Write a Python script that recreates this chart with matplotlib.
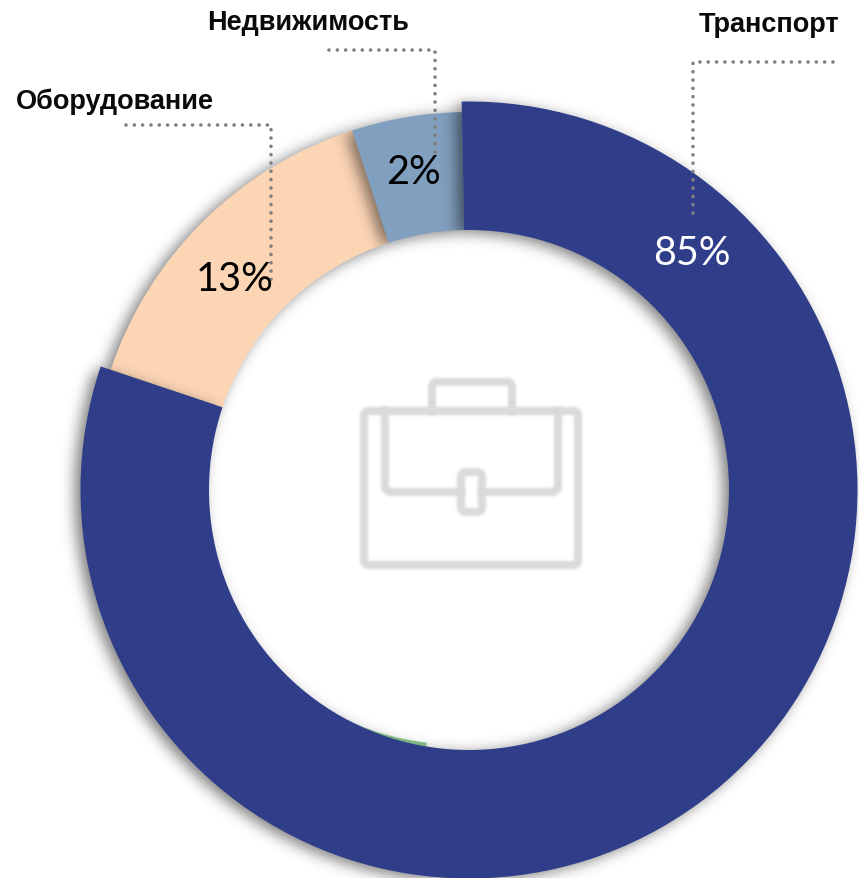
import matplotlib
matplotlib.use("Agg")
import matplotlib.pyplot as plt
import numpy as np
from matplotlib.patches import Wedge, FancyBboxPatch

# Data
categories = ["Транспорт", "Оборудование", "Недвижимость"]
value_labels = ["85%", "13%", "2%"]
slice_shares = [80.45, 14.85, 4.7]        # drawn arc shares, clockwise
first_start = -0.3                        # navy starts just left of 12 o'clock
colors = ["#303E8A", "#FCD5B5", "#819FBE"]
sliver_start, sliver_share = 51.8, 5.8    # thin green arc under the navy ring
sliver_color = "#7FB583"

W, H = 859, 879
fig = plt.figure(figsize=(W / 100, H / 100), dpi=100)
ax = fig.add_axes([0, 0, 1, 1])
ax.set_xlim(0, W)
ax.set_ylim(H, 0)   # pixel-like coordinates, y down
ax.axis("off")

cx, cy = 469, 491
px = 72 / 100  # points per pixel
radii = [388.5, 378, 378]
inner = 260


def blur(sigma, rgb=None, strength=1.0):
    """agg_filter: gaussian blur of the artist's alpha, keeps one flat colour."""
    pad = int(3.5 * sigma) + 2
    xs = np.arange(-pad, pad + 1)
    kern = np.exp(-xs ** 2 / (2 * sigma ** 2))
    kern /= kern.sum()

    def _f(img, dpi):
        out = np.pad(img, ((pad, pad), (pad, pad), (0, 0)))
        a = out[:, :, 3]
        ny, nx = a.shape
        fa = np.fft.rfft2(a)
        ky = np.fft.fft(np.roll(np.pad(kern, (0, ny - kern.size)), -pad))
        kx = np.fft.rfft(np.roll(np.pad(kern, (0, nx - kern.size)), -pad))
        b = np.fft.irfft2(fa * ky[:, None] * kx[None, :], s=a.shape)
        res = np.zeros_like(out)
        res[:, :, :3] = (0, 0, 0) if rgb is None else rgb
        res[:, :, 3] = np.clip(b * strength, 0, 1)
        return res, -pad, -pad
    return _f


def arc_wedge(c, r, width, start_share, share, **kw):
    # With y inverted, increasing angle runs clockwise on screen; 12 o'clock is -90
    t1 = -90 + start_share * 3.6
    t2 = t1 + share * 3.6
    return Wedge(c, r, t1, t2, width=width, **kw)


def shadow(r, start, share, z, off=(-6, 3), sigma=7.0, strength=0.5):
    p = arc_wedge((cx + off[0], cy + off[1]), r, r - inner, start, share,
                  fc="black", ec="none", zorder=z)
    p.set_agg_filter(blur(sigma, strength=strength))
    ax.add_patch(p)


starts = np.cumsum([first_start] + slice_shares[:-1])
zs = [6, 2, 4]
for r, s, share, col, z in zip(radii, starts, slice_shares, colors, zs):
    shadow(r, s, share, z - 0.5)
    ax.add_patch(arc_wedge((cx, cy), r, r - inner, s, share, fc=col, ec="none", zorder=z))

ax.add_patch(arc_wedge((cx - 13.6, cy), 300, 45.7, sliver_start, sliver_share,
                       fc=sliver_color, ec="none", zorder=5.7))

# Briefcase icon (soft, blurred look)
GREY = "#DADADA"
grey_rgb = matplotlib.colors.to_rgb(GREY)
def soft(a):
    a.set_agg_filter(blur(1.3, rgb=grey_rgb))
    return a
icon = dict(ec=GREY, fc="none", lw=8 * px, zorder=7)
soft(ax.add_patch(FancyBboxPatch((364, 412), 214, 154, boxstyle="round,pad=0,rounding_size=5", **icon)))
soft(ax.plot([432, 432, 435, 509, 512, 512], [412, 387, 383, 383, 387, 412],
             color=GREY, lw=8 * px, zorder=7, solid_joinstyle="round")[0])
soft(ax.plot([385, 385, 389, 461], [412, 489, 493, 493], color=GREY, lw=8 * px, zorder=7, solid_joinstyle="round")[0])
soft(ax.plot([482, 554, 558, 558], [493, 493, 489, 412], color=GREY, lw=8 * px, zorder=7, solid_joinstyle="round")[0])
soft(ax.add_patch(FancyBboxPatch((461, 473), 21, 40, boxstyle="round,pad=0,rounding_size=5", **icon)))

# Leader lines
leader = dict(color="#7F7F7F", lw=3.6 * px, ls=(0, (0.01, 2.3)), dash_capstyle="round", zorder=8)
ax.plot([833, 693, 693], [62.5, 62.5, 219], **leader)
ax.plot([329, 435, 435], [51, 51, 160], **leader)
ax.plot([126, 271, 271], [126, 126, 285], **leader)

# Category labels
cat_font = dict(family=["Liberation Sans", "DejaVu Sans"], fontweight="bold", fontsize=19.5,
                color="#0A0A0A", zorder=9, va="baseline")
ax.text(839, 32, categories[0], ha="right", **cat_font)
ax.text(16, 109, categories[1], ha="left", **cat_font)
ax.text(207, 30, categories[2], ha="left", **cat_font)

# Value labels
val_font = dict(family="Lato", fontsize=28.5, ha="center", va="center", zorder=9)
ax.text(692, 254, value_labels[0], color="white", **val_font)
ax.text(235, 280, value_labels[1], color="black", **val_font)
ax.text(414, 173, value_labels[2], color="black", **val_font)

fig.savefig("out.png", dpi=100)
